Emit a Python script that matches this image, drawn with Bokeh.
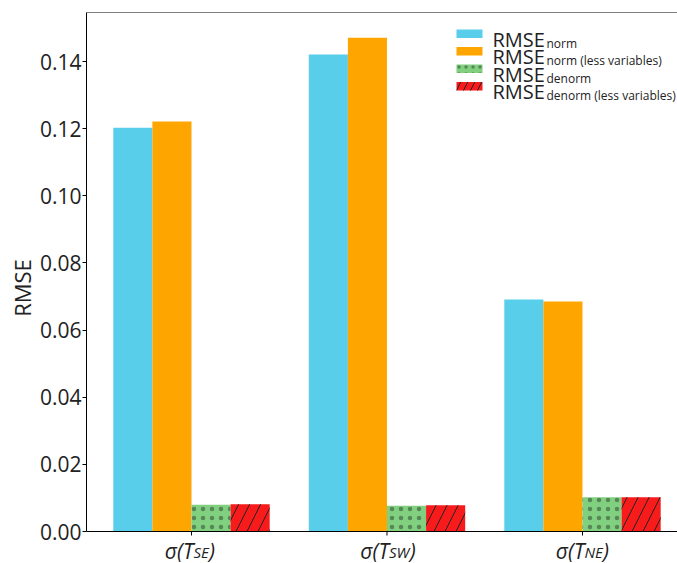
from bokeh.plotting import figure
from bokeh.models import (ColumnDataSource, FixedTicker, NumeralTickFormatter,
                          Label, BoxAnnotation, Span)
from bokeh.embed import file_html
from bokeh.resources import INLINE
import numpy as np

# ---- data ----
groups_main = ["\u03c3(T", "\u03c3(T", "\u03c3(T"]
groups_sub = ["SE", "SW", "NE"]
rmse_norm = [0.1203, 0.1421, 0.0691]
rmse_norm_less = [0.1221, 0.1471, 0.0685]
rmse_denorm = [0.0080, 0.0077, 0.0102]
rmse_denorm_less = [0.0081, 0.0078, 0.0102]
y_ticks = [0.00, 0.02, 0.04, 0.06, 0.08, 0.10, 0.12, 0.14]
legend_sub = ["norm", "norm (less variables)", "denorm", "denorm (less variables)"]

# ---- layout constants ----
W, H = 677, 563
FL, FT, FB = 86, 12, H            # frame left / top / bottom in pixels
AXIS_PX = 531                     # pixel row of the value 0 line
FR = W
X0, X1 = -0.537, 2.486
Y_TOP = 0.1546
PX_PER_UNIT = (AXIS_PX - FT) / Y_TOP
Y0 = -(FB - AXIS_PX) / PX_PER_UNIT  # room below zero for the category labels
Y1 = Y_TOP
FONT = "Open Sans"
TXT = "#222222"

series = [
    dict(top=rmse_norm, color="#59CEEA", hatch=None),
    dict(top=rmse_norm_less, color="#FFA500", hatch=None),
    dict(top=rmse_denorm, color="#80D080", hatch="dot"),
    dict(top=rmse_denorm_less, color="#F71B1B", hatch="right_diagonal_line"),
]
offsets = [-0.3, -0.1, 0.1, 0.3]
bar_w = 0.2


def hatch_kw(kind, small=False):
    if kind == "dot":
        return dict(hatch_pattern="dot", hatch_color="#1a1a1a",
                    hatch_scale=7 if small else 9, hatch_weight=0.6,
                    hatch_alpha=0.4)
    if kind:
        return dict(hatch_pattern=kind, hatch_color="#222222",
                    hatch_scale=14 if small else 22, hatch_weight=1.0)
    return {}


p = figure(width=W, height=H, x_range=(X0, X1), y_range=(Y0, Y1),
           output_backend="svg", toolbar_location=None, x_axis_location=None,
           min_border_left=FL, min_border_right=0, min_border_top=FT,
           min_border_bottom=0)
p.outline_line_color = None
p.grid.visible = False
p.background_fill_color = "white"
p.border_fill_color = "white"

xs = np.arange(len(groups_sub))

# category tick marks hanging below the zero line
tick_len = 4 / PX_PER_UNIT
p.segment(x0=xs, y0=np.zeros(len(xs)), x1=xs, y1=np.full(len(xs), -tick_len),
          line_color="black", line_width=1)

for s, off in zip(series, offsets):
    src = ColumnDataSource(dict(x=xs + off, top=s["top"]))
    p.vbar(x="x", top="top", bottom=0, width=bar_w, source=src,
           fill_color=s["color"], line_color=None, **hatch_kw(s["hatch"]))

# zero line and top border
p.add_layout(Span(location=0, dimension="width", line_color="black", line_width=1))
p.add_layout(Span(location=Y1, dimension="width", line_color="black", line_width=1))

# y axis
p.yaxis.bounds = (0, Y1)
p.yaxis.ticker = FixedTicker(ticks=y_ticks)
p.yaxis.formatter = NumeralTickFormatter(format="0.00")
p.yaxis.axis_label = "RMSE"
p.yaxis.axis_label_text_font = FONT
p.yaxis.axis_label_text_font_size = "22px"
p.yaxis.axis_label_text_font_style = "normal"
p.yaxis.axis_label_text_color = TXT
p.yaxis.axis_label_standoff = 0
p.yaxis.major_label_text_font = FONT
p.yaxis.major_label_text_font_size = "21px"
p.yaxis.major_label_text_color = TXT
p.yaxis.major_label_standoff = 1
p.yaxis.major_tick_in = 0
p.yaxis.major_tick_out = 4
p.yaxis.minor_tick_line_color = None
p.yaxis.axis_line_color = "black"
p.yaxis.major_tick_line_color = "black"

# category labels with subscripts
em = {"S": 0.53, "E": 0.50, "W": 0.86, "N": 0.73}
for i, (main, sub) in enumerate(zip(groups_main, groups_sub)):
    p.add_layout(Label(x=float(xs[i]), y=0, x_offset=2, y_offset=-19, text=main,
                       text_align="right", text_baseline="alphabetic",
                       text_font=FONT, text_font_style="italic",
                       text_font_size="21px", text_color=TXT))
    p.add_layout(Label(x=float(xs[i]), y=0, x_offset=2, y_offset=-20, text=sub,
                       text_align="left", text_baseline="alphabetic",
                       text_font=FONT, text_font_style="italic",
                       text_font_size="15px", text_color=TXT))
    wsub = sum(em[c] for c in sub) * 15
    p.add_layout(Label(x=float(xs[i]), y=0, x_offset=2 + wsub, y_offset=-19, text=")",
                       text_align="left", text_baseline="alphabetic",
                       text_font=FONT, text_font_style="italic",
                       text_font_size="21px", text_color=TXT))


# ---- legend (drawn by hand for subscripted labels) ----
def px_x(px):
    return X0 + (px - FL) / (FR - FL) * (X1 - X0)


def px_y(py):
    return Y1 - (py - FT) / PX_PER_UNIT


base0, step = 38.5, 17.5
for k, s in enumerate(series):
    b = base0 + k * step
    p.add_layout(BoxAnnotation(left=px_x(456), right=px_x(482),
                               top=px_y(b - 9.5), bottom=px_y(b - 1),
                               fill_color=s["color"], fill_alpha=1.0,
                               line_color=None, **hatch_kw(s["hatch"], small=True)))
    p.add_layout(Label(x=px_x(492), y=px_y(b), text="RMSE",
                       text_align="left", text_baseline="alphabetic",
                       text_font=FONT, text_font_size="20px", text_color=TXT))
    p.add_layout(Label(x=px_x(546), y=px_y(b + 4), text=legend_sub[k],
                       text_align="left", text_baseline="alphabetic",
                       text_font=FONT, text_font_size="12px", text_color=TXT))

open("out.html", "w").write(file_html(p, INLINE))
